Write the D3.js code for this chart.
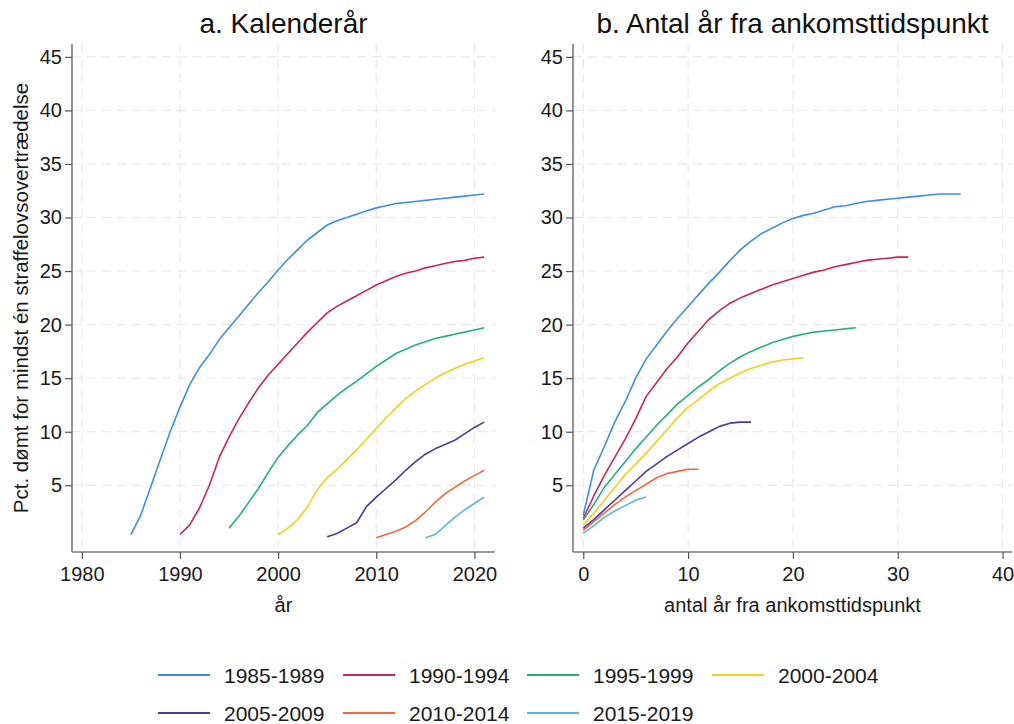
<!DOCTYPE html>
<html>
<head>
<meta charset="utf-8">
<script src="https://cdn.jsdelivr.net/npm/d3@7"></script>
<style>
  body { margin: 0; background: #fff; }
  svg { font-family: "Liberation Sans", Arial, sans-serif; }
</style>
</head>
<body>
<svg id="chart" width="1014" height="724"></svg>
<script>
// cohorts (ankomstår)
var cohorts = ["1985-1989", "1990-1994", "1995-1999", "2000-2004", "2005-2009", "2010-2014", "2015-2019"]
var startYears = [1985, 1990, 1995, 2000, 2005, 2010, 2015]

// a. pct. by calendar year, one value per year from the start year to 2021
var kal_1985 = [0.4, 2.2, 4.8, 7.4, 10.0, 12.3, 14.4, 16.0, 17.2, 18.6, 19.7, 20.8, 21.9, 23.0, 24.0, 25.1, 26.1, 27.0, 27.9, 28.6, 29.3, 29.7, 30.0, 30.3, 30.6, 30.9, 31.1, 31.3, 31.4, 31.5, 31.6, 31.7, 31.8, 31.9, 32.0, 32.1, 32.2]
var kal_1990 = [0.4, 1.3, 2.9, 5.0, 7.6, 9.5, 11.2, 12.7, 14.1, 15.3, 16.3, 17.3, 18.3, 19.3, 20.2, 21.1, 21.7, 22.2, 22.7, 23.2, 23.7, 24.1, 24.5, 24.8, 25.0, 25.3, 25.5, 25.7, 25.9, 26.0, 26.2, 26.3]
var kal_1995 = [1.0, 2.1, 3.4, 4.7, 6.2, 7.6, 8.7, 9.7, 10.6, 11.8, 12.6, 13.4, 14.1, 14.7, 15.4, 16.1, 16.7, 17.3, 17.7, 18.1, 18.4, 18.7, 18.9, 19.1, 19.3, 19.5, 19.7]
var kal_2000 = [0.4, 1.0, 1.8, 3.0, 4.6, 5.7, 6.5, 7.4, 8.3, 9.3, 10.3, 11.3, 12.2, 13.1, 13.8, 14.4, 15.0, 15.5, 15.9, 16.3, 16.6, 16.9]
var kal_2005 = [0.2, 0.5, 1.0, 1.5, 3.0, 3.9, 4.7, 5.5, 6.4, 7.2, 7.9, 8.4, 8.8, 9.2, 9.8, 10.4, 10.9]
var kal_2010 = [0.1, 0.4, 0.7, 1.1, 1.7, 2.5, 3.4, 4.2, 4.8, 5.4, 5.9, 6.4]
var kal_2015 = [0.1, 0.4, 1.2, 2.0, 2.7, 3.3, 3.9]

// b. pct. by years since arrival, t = 0, 1, 2, ...
var ank_1985 = [2.2, 6.4, 8.6, 10.9, 12.8, 15.0, 16.8, 18.1, 19.4, 20.6, 21.7, 22.8, 23.9, 24.9, 26.0, 27.0, 27.8, 28.5, 29.0, 29.5, 29.9, 30.2, 30.4, 30.7, 31.0, 31.1, 31.3, 31.5, 31.6, 31.7, 31.8, 31.9, 32.0, 32.1, 32.2, 32.2, 32.2]
var ank_1990 = [1.9, 4.0, 5.9, 7.6, 9.3, 11.2, 13.3, 14.6, 15.9, 17.0, 18.3, 19.4, 20.5, 21.3, 22.0, 22.5, 22.9, 23.3, 23.7, 24.0, 24.3, 24.6, 24.9, 25.1, 25.4, 25.6, 25.8, 26.0, 26.1, 26.2, 26.3, 26.3]
var ank_1995 = [1.75, 3.2, 4.8, 6.0, 7.2, 8.4, 9.5, 10.6, 11.6, 12.6, 13.4, 14.2, 14.9, 15.7, 16.4, 17.0, 17.5, 17.9, 18.3, 18.6, 18.9, 19.1, 19.3, 19.4, 19.5, 19.6, 19.7]
var ank_2000 = [1.3, 2.4, 3.6, 4.8, 6.0, 7.0, 8.0, 9.1, 10.2, 11.3, 12.3, 13.0, 13.8, 14.5, 15.0, 15.5, 15.9, 16.2, 16.5, 16.7, 16.8, 16.9]
var ank_2005 = [1.0, 1.8, 2.7, 3.6, 4.5, 5.4, 6.3, 7.0, 7.7, 8.3, 8.9, 9.5, 10.0, 10.5, 10.8, 10.9, 10.9]
var ank_2010 = [0.8, 1.6, 2.4, 3.2, 3.9, 4.5, 5.1, 5.7, 6.1, 6.3, 6.5, 6.5]
var ank_2015 = [0.5, 1.2, 2.0, 2.6, 3.1, 3.6, 3.9]

var kalValues = [kal_1985, kal_1990, kal_1995, kal_2000, kal_2005, kal_2010, kal_2015]
var ankValues = [ank_1985, ank_1990, ank_1995, ank_2000, ank_2005, ank_2010, ank_2015]

// tick labels
var yTicks = [5, 10, 15, 20, 25, 30, 35, 40, 45]
var kalTicks = [1980, 1990, 2000, 2010, 2020]
var ankTicks = [0, 10, 20, 30, 40]

var colors = ["#3c8fe6", "#c9245c", "#22b07d", "#f5cf1c", "#4f3a96", "#f2683c", "#5ab6e8"]

window.onload = () => {
  draw_panel({
    x0: 72, x1: 495,
    domain: [1979, 2022.1],
    ticks: kalTicks,
    title: "a. Kalenderår",
    xTitle: "år",
    yTitle: "Pct. dømt for mindst én straffelovsovertrædelse",
    series: kalValues.map(function(vals, i) {
      return vals.map(function(v, j) { return {x: startYears[i] + j, y: v} })
    })
  })
  draw_panel({
    x0: 573, x1: 1012,
    domain: [-0.98, 40.9],
    ticks: ankTicks,
    title: "b. Antal år fra ankomsttidspunkt",
    xTitle: "antal år fra ankomsttidspunkt",
    yTitle: null,
    series: ankValues.map(function(vals) {
      return vals.map(function(v, j) { return {x: j, y: v} })
    })
  })
  draw_legend()
}

var top_y = 44, bottom_y = 552

function draw_panel(p) {
  var svg = d3.select("#chart")
  var g = svg.append("g")

  var x = d3.scaleLinear().domain(p.domain).range([p.x0, p.x1])
  var y = d3.scaleLinear().domain([-1.23, 46.2]).range([bottom_y, top_y])

  // dashed grid
  g.append("g").selectAll("line")
    .data(yTicks).enter().append("line")
      .attr("x1", p.x0).attr("x2", p.x1)
      .attr("y1", function(d) { return y(d) })
      .attr("y2", function(d) { return y(d) })
      .attr("stroke", "#e6e6e6")
      .attr("stroke-width", 1)
      .attr("stroke-dasharray", "9,6")
  g.append("g").selectAll("line")
    .data(p.ticks).enter().append("line")
      .attr("y1", top_y).attr("y2", bottom_y)
      .attr("x1", function(d) { return x(d) })
      .attr("x2", function(d) { return x(d) })
      .attr("stroke", "#e6e6e6")
      .attr("stroke-width", 1)
      .attr("stroke-dasharray", "9,6")

  // axes
  var yAxis = g.append("g")
    .attr("transform", "translate(" + p.x0 + ",0)")
    .call(d3.axisLeft(y).tickValues(yTicks).tickSize(7).tickPadding(3))
  var xAxis = g.append("g")
    .attr("transform", "translate(0," + bottom_y + ")")
    .call(d3.axisBottom(x).tickValues(p.ticks).tickSize(7).tickPadding(8).tickFormat(d3.format("d")))

  yAxis.select(".domain").attr("d", "M0," + top_y + "V" + bottom_y)
  xAxis.select(".domain").attr("d", "M" + p.x0 + ",0H" + p.x1)
  g.selectAll(".domain").attr("stroke", "#7a7a7a").attr("stroke-width", 1.6)
  g.selectAll(".tick line").attr("stroke", "#555").attr("stroke-width", 1.2)
  g.selectAll(".tick text")
    .style("font-size", "20px")
    .style("font-family", "'Liberation Sans', Arial, sans-serif")
    .attr("fill", "#1a1a1a")

  // lines
  var line = d3.line()
    .x(function(d) { return x(d.x) })
    .y(function(d) { return y(d.y) })

  g.append("g").selectAll("path")
    .data(p.series).enter().append("path")
      .attr("fill", "none")
      .attr("stroke", function(d, i) { return colors[i] })
      .attr("stroke-width", 1.6)
      .attr("stroke-linejoin", "round")
      .attr("d", line)

  // titles
  g.append("text")
    .attr("x", (p.x0 + p.x1) / 2)
    .attr("y", 33)
    .attr("text-anchor", "middle")
    .style("font-size", "28px")
    .attr("fill", "#111")
    .text(p.title)

  g.append("text")
    .attr("x", (p.x0 + p.x1) / 2)
    .attr("y", 612)
    .attr("text-anchor", "middle")
    .style("font-size", "20px")
    .attr("fill", "#1a1a1a")
    .text(p.xTitle)

  if (p.yTitle) {
    g.append("text")
      .attr("transform", "translate(28," + (top_y + bottom_y) / 2 + ") rotate(-90)")
      .attr("text-anchor", "middle")
      .style("font-size", "20.5px")
      .attr("fill", "#1a1a1a")
      .text(p.yTitle)
  }
}

function draw_legend() {
  var svg = d3.select("#chart")
  var colX = [158, 343, 527, 712]
  var rowY = [675, 713]

  var items = svg.append("g").selectAll("g")
    .data(cohorts).enter().append("g")
      .attr("transform", function(d, i) {
        return "translate(" + colX[i % 4] + "," + rowY[Math.floor(i / 4)] + ")"
      })

  items.append("line")
    .attr("x1", 0).attr("x2", 52)
    .attr("y1", 0).attr("y2", 0)
    .attr("stroke", function(d, i) { return colors[i] })
    .attr("stroke-width", 2)

  items.append("text")
    .attr("x", 66)
    .attr("y", 7.5)
    .style("font-size", "21px")
    .attr("fill", "#1a1a1a")
    .text(function(d) { return d })
}
</script>
</body>
</html>
